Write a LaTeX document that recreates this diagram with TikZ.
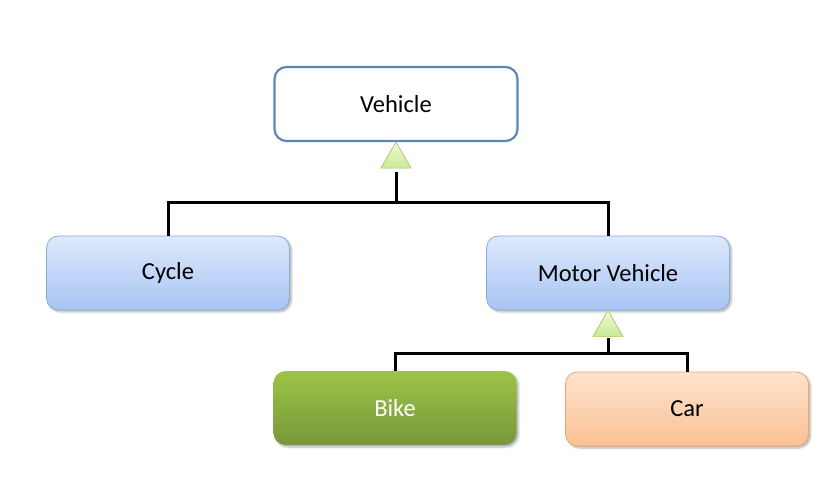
\documentclass[tikz,border=0pt]{standalone}
\usepackage{fontspec}
\setmainfont{Carlito}
\usetikzlibrary{shadows.blur}
\definecolor{vborder}{HTML}{5A86B9}
\definecolor{bluetop}{HTML}{DDE8FB}
\definecolor{bluebot}{HTML}{A8C5F4}
\definecolor{blueborder}{HTML}{8AAAD6}
\definecolor{greentop}{HTML}{9DC448}
\definecolor{greenbot}{HTML}{77973A}
\definecolor{peachtop}{HTML}{FDE3CE}
\definecolor{peachbot}{HTML}{FBC194}
\definecolor{peachborder}{HTML}{EFA468}
\definecolor{tritop}{HTML}{EEF8D6}
\definecolor{tribot}{HTML}{C9EA96}
\definecolor{triborder}{HTML}{9CC25C}
\tikzset{
  x=1pt, y=1pt,
  box/.style={rounded corners=12pt, minimum width=243pt, minimum height=74pt, font=\fontsize{24.5}{28}\selectfont, inner sep=0pt},
  topbox/.style={box, draw=vborder, line width=2.2pt, fill=white},
  bluebox/.style={box, draw=blueborder, line width=0.8pt, top color=bluetop, bottom color=bluebot, blur shadow={shadow xshift=2pt, shadow yshift=-2pt, shadow blur steps=6, shadow opacity=30}},
  greenbox/.style={box, draw=none, top color=greentop, bottom color=greenbot, text=white, blur shadow={shadow xshift=2pt, shadow yshift=-2pt, shadow blur steps=6, shadow opacity=30}},
  peachbox/.style={box, draw=peachborder, line width=0.8pt, top color=peachtop, bottom color=peachbot, blur shadow={shadow xshift=2pt, shadow yshift=-2pt, shadow blur steps=6, shadow opacity=30}},
  conn/.style={line width=3pt, black},
  tri/.style={draw=triborder, line width=0.6pt, top color=tritop, bottom color=tribot, line join=miter},
}
\begin{document}
\begin{tikzpicture}
\useasboundingbox (0,0) rectangle (840,485);
\node[topbox] (veh) at (396,381) {Vehicle};
\node[bluebox] (cyc) at (168,212) {Cycle};
\node[bluebox] (mv) at (608,212) {Motor Vehicle};
\node[greenbox] (bike) at (395,77) {Bike};
\node[peachbox] (car) at (687,76) {Car};
% junctions
\coordinate (j1) at (396,282);
\coordinate (t1) at (396,313);
\coordinate (j2) at (608,132);
\coordinate (t2) at (608,147);
% connectors
\draw[conn] (t1) -- (j1);
\draw[conn] (cyc.north) |- (j1) -| (mv.north);
\draw[conn] (t2) -- (j2);
\draw[conn] (bike.north) |- (j2) -| (car.north);
% triangles
\path[tri] (veh.south) -- ++(15,-26) -- ++(-30,0) -- cycle;
\path[tri] (mv.south) -- ++(15,-26) -- ++(-30,0) -- cycle;
\end{tikzpicture}
\end{document}
